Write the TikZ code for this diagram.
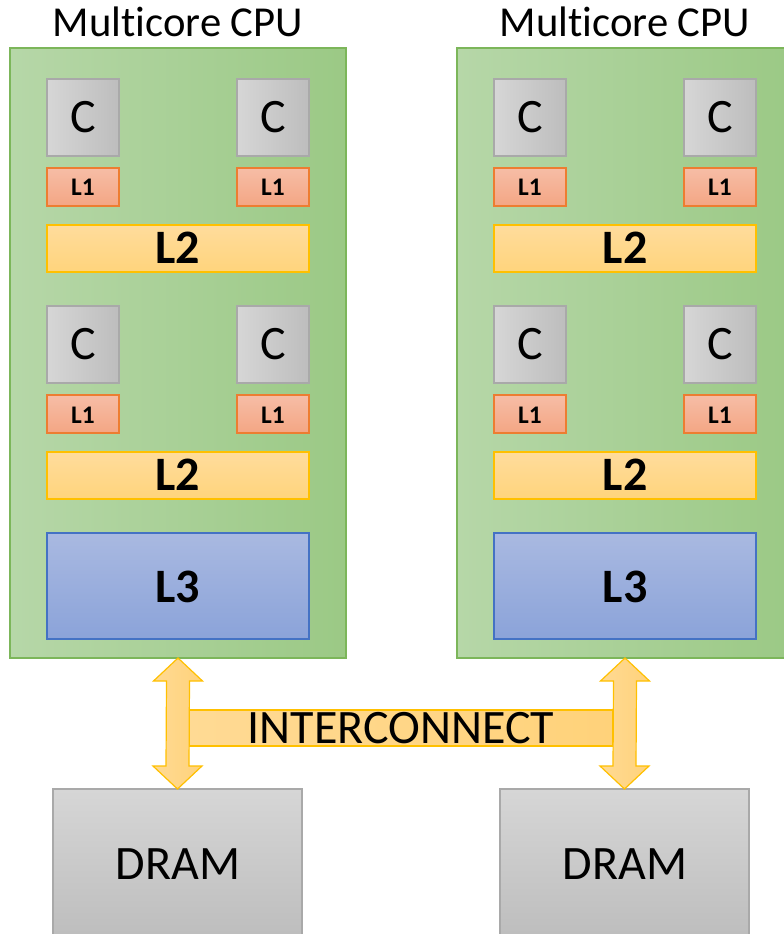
\documentclass[tikz,border=0pt]{standalone}
\usepackage{fontspec}
\setmainfont{Carlito}[Ligatures=NoCommon]
\usetikzlibrary{calc,fit}
\definecolor{cpuA}{HTML}{B6D7A8}
\definecolor{cpuB}{HTML}{9BC985}
\definecolor{cpuE}{HTML}{7CB65A}
\definecolor{coreA}{HTML}{D6D6D6}
\definecolor{coreB}{HTML}{BDBDBD}
\definecolor{greyE}{HTML}{A9A9A9}
\definecolor{lA}{HTML}{F6BDA6}
\definecolor{lB}{HTML}{F4A684}
\definecolor{lE}{HTML}{ED7D31}
\definecolor{ltA}{HTML}{FFDC9C}
\definecolor{ltB}{HTML}{FFD47C}
\definecolor{ltE}{HTML}{FFC000}
\definecolor{lthA}{HTML}{A9B9E1}
\definecolor{lthB}{HTML}{8BA3D9}
\definecolor{lthE}{HTML}{4472C4}
\definecolor{arrA}{HTML}{FFDA94}
\definecolor{arrB}{HTML}{FFD27A}
\tikzset{
  base/.style={inner sep=0pt, outer sep=0pt, line width=0.9pt},
  cpubox/.style={base, draw=cpuE, left color=cpuA, right color=cpuB},
  corebox/.style={base, draw=greyE, left color=coreA, right color=coreB},
  lonebox/.style={base, draw=lE, top color=lA, bottom color=lB},
  ltwobox/.style={base, draw=ltE, top color=ltA, bottom color=ltB},
  lthreebox/.style={base, draw=lthE, top color=lthA, bottom color=lthB},
  drambox/.style={base, draw=greyE, top color=coreA, bottom color=coreB},
  barbox/.style={base, draw=ltE, left color=arrA, right color=arrB},
  arrowshape/.style={draw=ltE, line width=0.9pt, left color=arrA, right color=arrB, line join=miter},
  bigtext/.style={inner sep=0pt, anchor=base, font=\fontsize{36}{40}\selectfont},
  boldtext/.style={inner sep=0pt, anchor=base, font=\bfseries\fontsize{36}{40}\selectfont},
  smalltext/.style={inner sep=0pt, anchor=base, font=\bfseries\fontsize{19}{22}\selectfont},
  titletext/.style={inner sep=0pt, anchor=base, font=\fontsize{32}{36}\selectfont}
}
\begin{document}
\begin{tikzpicture}[x=0.75pt,y=-0.75pt]
\useasboundingbox (0,0) rectangle (784,934);
\clip (0,0) rectangle (784,934);
\fill[white] (0,0) rectangle (784,934);

% CPUs
\node[cpubox, fit={(10,48) (346,658)}] (cpuL) {};
\node[cpubox, fit={(457,48) (793,658)}] (cpuR) {};
\node[titletext] (titleL) at (178,37) {Multicore CPU};
\node[titletext] (titleR) at (625,37) {Multicore CPU};

% boxes: name / x1 / y1 / x2 / y2 / style / text style / text / baseline offset
\foreach \n/\xa/\ya/\xb/\yb/\s/\t/\l/\o in {
  cL1/47/79/119/156/corebox/bigtext/C/15,
  cL2/237/79/309/156/corebox/bigtext/C/15,
  aL1/47/168/119/206/lonebox/smalltext/L1/9,
  aL2/237/168/309/206/lonebox/smalltext/L1/9,
  bL1/47/225/309/272/ltwobox/boldtext/L2/15,
  cL3/47/306/119/383/corebox/bigtext/C/15,
  cL4/237/306/309/383/corebox/bigtext/C/15,
  aL3/47/395/119/433/lonebox/smalltext/L1/9,
  aL4/237/395/309/433/lonebox/smalltext/L1/9,
  bL2/47/452/309/499/ltwobox/boldtext/L2/15,
  dL/47/533/309/639/lthreebox/boldtext/L3/16,
  cR1/494/79/566/156/corebox/bigtext/C/15,
  cR2/684/79/756/156/corebox/bigtext/C/15,
  aR1/494/168/566/206/lonebox/smalltext/L1/9,
  aR2/684/168/756/206/lonebox/smalltext/L1/9,
  bR1/494/225/756/272/ltwobox/boldtext/L2/15,
  cR3/494/306/566/383/corebox/bigtext/C/15,
  cR4/684/306/756/383/corebox/bigtext/C/15,
  aR3/494/395/566/433/lonebox/smalltext/L1/9,
  aR4/684/395/756/433/lonebox/smalltext/L1/9,
  bR2/494/452/756/499/ltwobox/boldtext/L2/15,
  dR/494/533/756/639/lthreebox/boldtext/L3/16}{
  \node[\s, fit={(\xa,\ya) (\xb,\yb)}] (\n) {};
  \node[\t] (\n-text) at ($(\n.center)+(0,\o)$) {\l};
}

% DRAM
\node[drambox, fit={(53,789) (302,940)}] (dramL) {};
\node[bigtext] (dramLt) at (178,879) {DRAM};
\node[drambox, fit={(500,789) (749,940)}] (dramR) {};
\node[bigtext] (dramRt) at (625,879) {DRAM};

% interconnect bar
\node[barbox, fit={(189,710) (613,746)}] (bar) {};
\node[bigtext] (bartext) at ($(bar.center)+(0,15.5)$) {INTERCONNECT};

% double arrows
\foreach \c/\d in {cpuL/dramL, cpuR/dramR}{
  \draw[arrowshape] (\c.south) -- ($(\c.south)+(24.5,23)$) -- ($(\c.south)+(11.5,23)$)
    -- ($(\d.north)+(11.5,-23)$) -- ($(\d.north)+(24.5,-23)$) -- (\d.north)
    -- ($(\d.north)+(-24.5,-23)$) -- ($(\d.north)+(-11.5,-23)$)
    -- ($(\c.south)+(-11.5,23)$) -- ($(\c.south)+(-24.5,23)$) -- cycle;
}
\end{tikzpicture}
\end{document}
